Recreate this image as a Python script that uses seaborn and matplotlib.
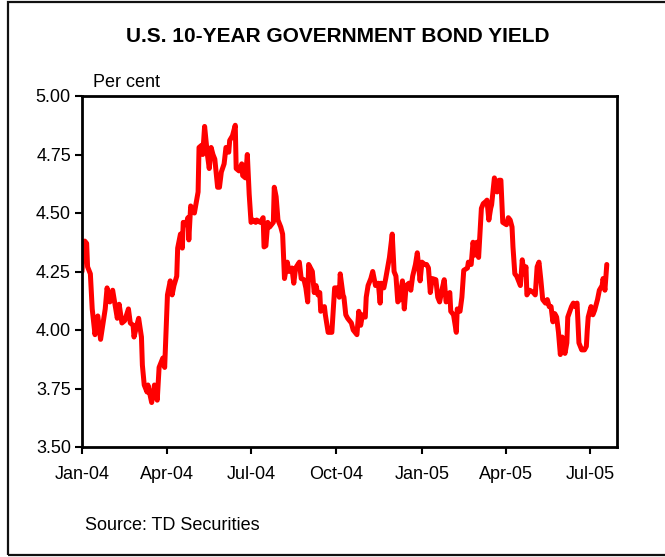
import matplotlib
matplotlib.use("Agg")
import matplotlib.pyplot as plt
import matplotlib.dates as mdates
from matplotlib.patches import Rectangle
from matplotlib.ticker import MultipleLocator, FormatStrFormatter
import pandas as pd
import seaborn as sns

# U.S. 10-year government bond yield, per cent
dates = [
    "2004-01-01", "2004-01-02", "2004-01-04", "2004-01-06", "2004-01-07", "2004-01-10",
    "2004-01-12", "2004-01-15", "2004-01-18", "2004-01-21", "2004-01-26", "2004-01-28",
    "2004-01-31", "2004-02-03", "2004-02-08", "2004-02-10", "2004-02-13", "2004-02-16",
    "2004-02-20", "2004-02-22", "2004-02-25", "2004-02-26", "2004-02-29", "2004-03-02",
    "2004-03-05", "2004-03-06", "2004-03-08", "2004-03-11", "2004-03-12", "2004-03-16",
    "2004-03-19", "2004-03-22", "2004-03-24", "2004-03-28", "2004-03-30", "2004-04-02",
    "2004-04-05", "2004-04-07", "2004-04-09", "2004-04-12", "2004-04-13", "2004-04-16",
    "2004-04-18", "2004-04-19", "2004-04-22", "2004-04-24", "2004-04-25", "2004-04-27",
    "2004-05-01", "2004-05-05", "2004-05-06", "2004-05-09", "2004-05-10", "2004-05-12",
    "2004-05-15", "2004-05-17", "2004-05-19", "2004-05-21", "2004-05-23", "2004-05-26",
    "2004-05-28", "2004-05-30", "2004-06-02", "2004-06-04", "2004-06-07", "2004-06-08",
    "2004-06-11", "2004-06-14", "2004-06-15", "2004-06-18", "2004-06-21", "2004-06-22",
    "2004-06-25", "2004-06-27", "2004-06-29", "2004-07-01", "2004-07-03", "2004-07-06",
    "2004-07-07", "2004-07-11", "2004-07-14", "2004-07-15", "2004-07-17", "2004-07-19",
    "2004-07-21", "2004-07-25", "2004-07-26", "2004-07-28", "2004-07-30", "2004-08-02",
    "2004-08-04", "2004-08-06", "2004-08-09", "2004-08-11", "2004-08-14", "2004-08-16",
    "2004-08-18", "2004-08-22", "2004-08-24", "2004-08-27", "2004-08-29", "2004-08-31",
    "2004-09-01", "2004-09-05", "2004-09-07", "2004-09-09", "2004-09-11", "2004-09-13",
    "2004-09-14", "2004-09-18", "2004-09-19", "2004-09-22", "2004-09-24", "2004-09-26",
    "2004-09-29", "2004-10-02", "2004-10-04", "2004-10-05", "2004-10-08", "2004-10-09",
    "2004-10-11", "2004-10-13", "2004-10-17", "2004-10-19", "2004-10-21", "2004-10-23",
    "2004-10-25", "2004-10-27", "2004-10-29", "2004-11-01", "2004-11-02", "2004-11-04",
    "2004-11-07", "2004-11-09", "2004-11-12", "2004-11-15", "2004-11-17", "2004-11-18",
    "2004-11-21", "2004-11-23", "2004-11-27", "2004-11-29", "2004-11-30", "2004-12-02",
    "2004-12-04", "2004-12-06", "2004-12-08", "2004-12-11", "2004-12-13", "2004-12-15",
    "2004-12-18", "2004-12-20", "2004-12-22", "2004-12-25", "2004-12-27", "2004-12-30",
    "2005-01-01", "2005-01-04", "2005-01-06", "2005-01-08", "2005-01-10", "2005-01-12",
    "2005-01-16", "2005-01-18", "2005-01-20", "2005-01-23", "2005-01-25", "2005-01-27",
    "2005-01-29", "2005-01-31", "2005-02-01", "2005-02-04", "2005-02-07", "2005-02-08",
    "2005-02-11", "2005-02-13", "2005-02-15", "2005-02-19", "2005-02-20", "2005-02-23",
    "2005-02-25", "2005-02-27", "2005-03-01", "2005-03-03", "2005-03-06", "2005-03-08",
    "2005-03-11", "2005-03-12", "2005-03-14", "2005-03-16", "2005-03-17", "2005-03-20",
    "2005-03-23", "2005-03-25", "2005-03-27", "2005-03-29", "2005-04-02", "2005-04-04",
    "2005-04-06", "2005-04-08", "2005-04-09", "2005-04-11", "2005-04-13", "2005-04-17",
    "2005-04-19", "2005-04-21", "2005-04-23", "2005-04-24", "2005-04-27", "2005-05-01",
    "2005-05-03", "2005-05-05", "2005-05-07", "2005-05-09", "2005-05-11", "2005-05-14",
    "2005-05-16", "2005-05-18", "2005-05-20", "2005-05-22", "2005-05-24", "2005-05-26",
    "2005-05-28", "2005-05-30", "2005-06-01", "2005-06-02", "2005-06-04", "2005-06-06",
    "2005-06-07", "2005-06-11", "2005-06-13", "2005-06-15", "2005-06-17", "2005-06-19",
    "2005-06-22", "2005-06-25", "2005-06-27", "2005-06-28", "2005-06-29", "2005-07-02",
    "2005-07-04", "2005-07-06", "2005-07-09", "2005-07-11", "2005-07-14", "2005-07-15",
    "2005-07-17", "2005-07-19",
]

yields = [
    4.25, 4.33, 4.38, 4.37, 4.27, 4.24,
    4.09, 3.98, 4.06, 3.96, 4.09, 4.18,
    4.12, 4.17, 4.05, 4.11, 4.03, 4.04,
    4.09, 4.03, 4.02, 3.97, 4.02, 4.05,
    3.97, 3.85, 3.765, 3.735, 3.765, 3.69,
    3.765, 3.70, 3.84, 3.88, 3.84, 4.15,
    4.21, 4.15, 4.19, 4.23, 4.35, 4.41,
    4.35, 4.46, 4.45, 4.48, 4.385, 4.53,
    4.50, 4.59, 4.78, 4.79, 4.75, 4.87,
    4.75, 4.69, 4.78, 4.75, 4.73, 4.61,
    4.61, 4.675, 4.71, 4.78, 4.76, 4.81,
    4.83, 4.875, 4.69, 4.68, 4.71, 4.66,
    4.65, 4.75, 4.58, 4.46, 4.47, 4.46,
    4.47, 4.46, 4.48, 4.355, 4.36, 4.46,
    4.44, 4.46, 4.61, 4.57, 4.47, 4.44,
    4.41, 4.22, 4.29, 4.25, 4.265, 4.20,
    4.265, 4.29, 4.22, 4.215, 4.18, 4.12,
    4.28, 4.25, 4.16, 4.19, 4.15, 4.16,
    4.08, 4.10, 4.065, 3.99, 3.99, 3.99,
    4.18, 4.18, 4.14, 4.24, 4.15, 4.14,
    4.065, 4.05, 4.03, 4.00, 3.99, 3.98,
    4.08, 4.02, 4.065, 4.055, 4.14, 4.19,
    4.22, 4.25, 4.19, 4.20, 4.115, 4.20,
    4.18, 4.22, 4.31, 4.375, 4.41, 4.25,
    4.23, 4.12, 4.13, 4.21, 4.09, 4.19,
    4.20, 4.17, 4.23, 4.28, 4.33, 4.21,
    4.29, 4.28, 4.28, 4.265, 4.16, 4.22,
    4.215, 4.14, 4.12, 4.18, 4.215, 4.12,
    4.14, 4.16, 4.08, 4.065, 3.99, 4.09,
    4.08, 4.14, 4.255, 4.265, 4.29, 4.28,
    4.375, 4.32, 4.375, 4.31, 4.52, 4.54,
    4.55, 4.555, 4.47, 4.52, 4.535, 4.65,
    4.59, 4.64, 4.64, 4.46, 4.45, 4.48,
    4.47, 4.44, 4.355, 4.24, 4.23, 4.19,
    4.30, 4.24, 4.27, 4.15, 4.17, 4.16,
    4.15, 4.27, 4.29, 4.215, 4.13, 4.115,
    4.13, 4.10, 4.10, 4.035, 4.07, 4.055,
    3.99, 3.895, 3.97, 3.93, 3.90, 3.945,
    4.055, 4.10, 4.115, 4.10, 4.115, 3.945,
    3.915, 3.915, 3.93, 4.00, 4.055, 4.10,
    4.065, 4.085, 4.13, 4.17, 4.19, 4.22,
    4.17, 4.28,
]

title = "U.S. 10-YEAR GOVERNMENT BOND YIELD"
unit_label = "Per cent"
source = "Source: TD Securities"

df = pd.DataFrame({"date": pd.to_datetime(dates), "yield": yields})

sns.set_theme(style="ticks")
plt.rcParams["font.family"] = ["Liberation Sans", "DejaVu Sans"]

W, H = 665, 557
fig = plt.figure(figsize=(W / 100, H / 100), dpi=100)
fig.patch.set_facecolor("white")

# outer frame around the whole chart
fig.add_artist(Rectangle((8 / W, 2 / H), 1.2, 553 / H, transform=fig.transFigure,
                         fill=False, edgecolor="#111111", linewidth=1.6))

ax = fig.add_axes([82 / W, 1 - 447 / H, (617 - 82) / W, (447 - 96) / H])
sns.lineplot(data=df, x="date", y="yield", ax=ax, color="#ff0000",
             linewidth=3.6, estimator=None)

ax.set_xlim(pd.Timestamp("2004-01-01"), pd.Timestamp("2005-07-30"))
ax.set_ylim(3.5, 5.0)
ax.yaxis.set_major_locator(MultipleLocator(0.25))
ax.yaxis.set_major_formatter(FormatStrFormatter("%.2f"))
ax.xaxis.set_major_locator(mdates.MonthLocator(bymonth=[1, 4, 7, 10]))
ax.xaxis.set_major_formatter(mdates.DateFormatter("%b-%y"))
ax.set_xlabel("")
ax.set_ylabel("")

for side in ["left", "right", "top", "bottom"]:
    ax.spines[side].set_visible(True)
    ax.spines[side].set_color("black")
    ax.spines[side].set_linewidth(2.0)
ax.tick_params(axis="both", direction="out", length=5, width=1.5, color="black",
               labelsize=13, labelcolor="black")
ax.tick_params(axis="x", pad=9)
ax.tick_params(axis="y", pad=3)

fig.text(338 / W, 1 - 37 / H, title, ha="center", va="center",
         fontsize=15, fontweight="bold", color="black")
fig.text(93 / W, 1 - 82 / H, unit_label, ha="left", va="center",
         fontsize=13, color="black")
fig.text(85 / W, 1 - 526 / H, source, ha="left", va="center",
         fontsize=13, color="black")

fig.savefig("out.png", dpi=100, facecolor="white")
